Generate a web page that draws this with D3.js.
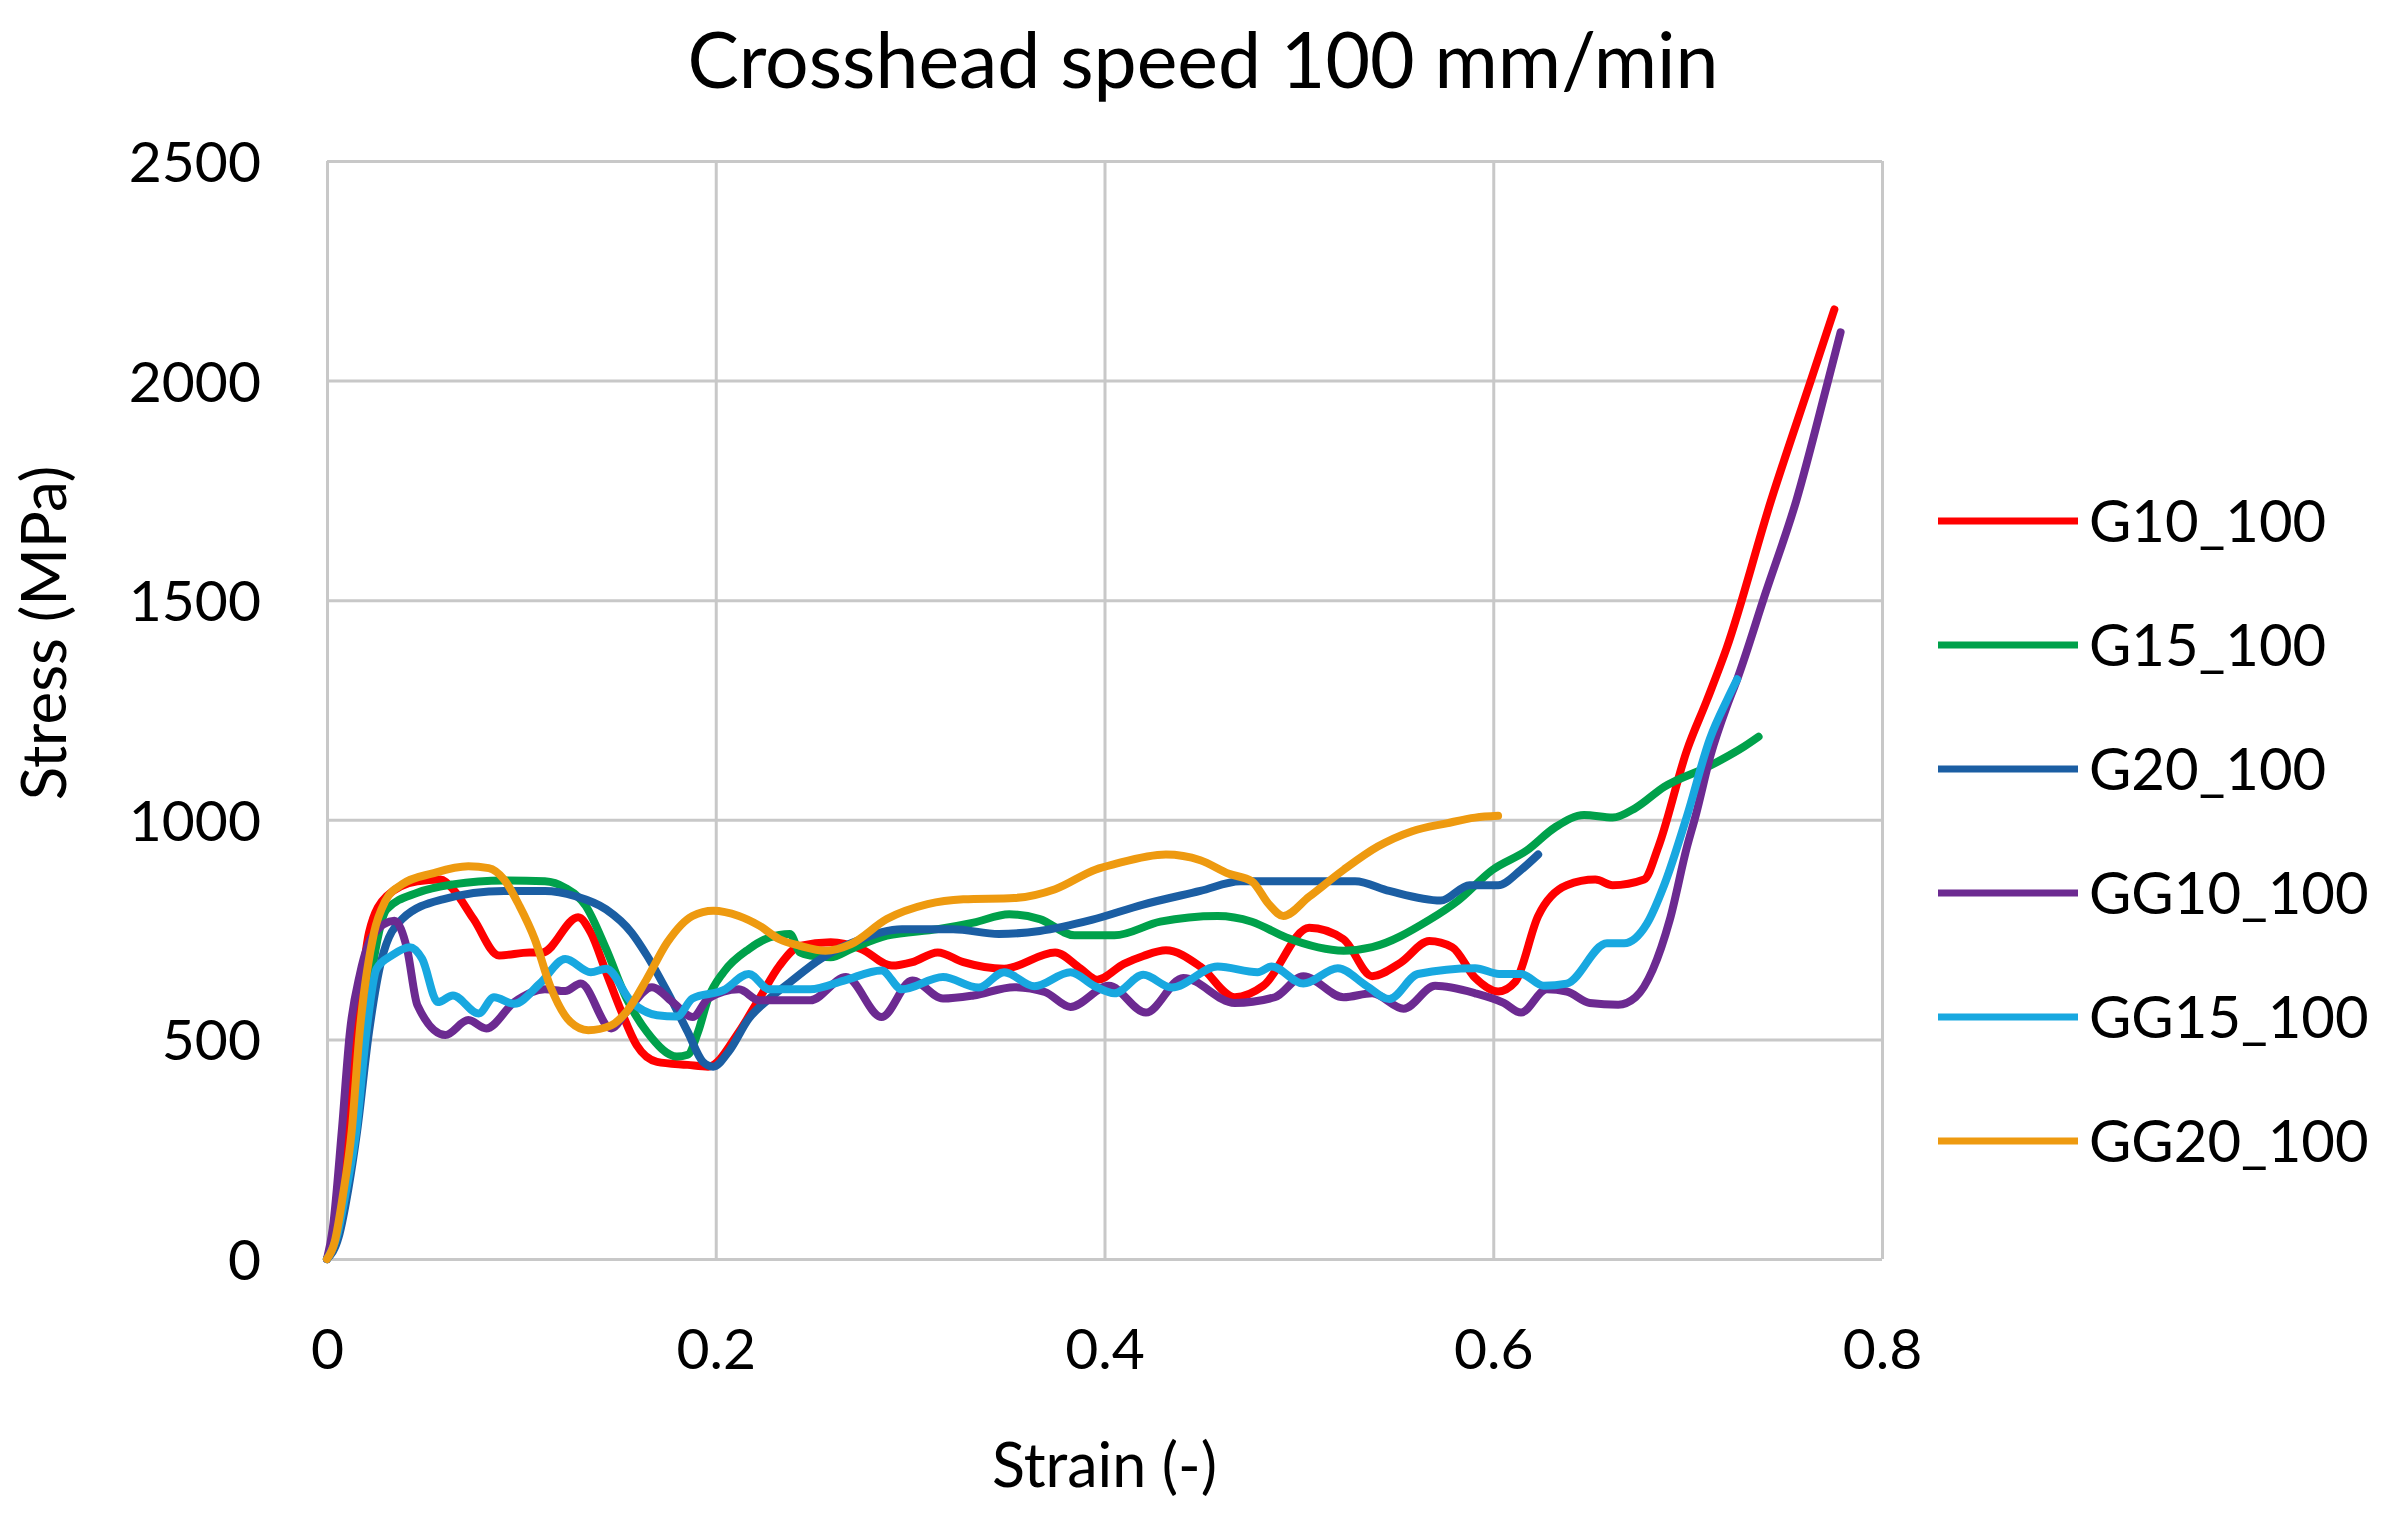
<!DOCTYPE html>
<html>
<head>
<meta charset="utf-8">
<script src="https://cdn.jsdelivr.net/npm/d3@7"></script>
<style>
  body { margin: 0; background: #fff; }
  text { font-family: Lato, "Open Sans", sans-serif; fill: #000; }
</style>
</head>
<body>
<div id="chart"></div>
<script>
// values (strain, stress in MPa)
var G10_100 = [[0,0],[0.004,60],[0.008,170],[0.011,291],[0.0155,517],[0.0216,743],[0.0307,826],[0.0465,860],[0.0583,864],[0.0648,842],[0.0754,774],[0.0885,691],[0.1042,698],[0.1108,698],[0.1292,778],[0.1357,743],[0.1436,653],[0.1515,563],[0.1593,487],[0.1698,449],[0.1856,442],[0.1961,438],[0.2119,517],[0.2224,593],[0.2328,668],[0.2433,713],[0.2591,721],[0.2748,706],[0.2906,668],[0.3011,676],[0.3142,698],[0.3274,676],[0.3483,661],[0.3746,698],[0.3877,661],[0.3963,636],[0.41,672],[0.42,690],[0.4316,703],[0.4493,666],[0.467,596],[0.4817,622],[0.5053,754],[0.523,728],[0.5377,644],[0.5524,675],[0.5671,724],[0.5789,710],[0.5907,640],[0.6025,609],[0.6113,631],[0.6231,781],[0.6378,851],[0.6525,864],[0.6614,851],[0.6776,864],[0.685,939],[0.6997,1159],[0.71,1273],[0.72,1390],[0.743,1728],[0.763,1995],[0.7755,2162]];

var G15_100 = [[0,0],[0.005,50],[0.0095,150],[0.0137,291],[0.0189,517],[0.024,680],[0.0307,796],[0.0465,834],[0.0648,853],[0.0911,862],[0.1121,860],[0.1226,845],[0.1331,804],[0.1436,706],[0.1541,593],[0.1646,517],[0.18,461],[0.1856,465],[0.1909,517],[0.1961,593],[0.204,653],[0.2171,706],[0.2276,732],[0.2381,740],[0.2433,698],[0.2486,691],[0.2591,687],[0.2696,706],[0.288,736],[0.3142,751],[0.3326,766],[0.351,785],[0.3667,774],[0.3845,737],[0.4051,737],[0.4287,768],[0.4582,781],[0.4758,768],[0.4935,732],[0.523,702],[0.5377,710],[0.5671,772],[0.5819,816],[0.5996,886],[0.6172,930],[0.6319,983],[0.6467,1011],[0.6614,1005],[0.6732,1027],[0.6879,1075],[0.7115,1123],[0.7292,1167],[0.7365,1189]];

var G20_100 = [[0,0],[0.006,50],[0.011,160],[0.0155,291],[0.0216,517],[0.028,680],[0.0386,774],[0.0596,819],[0.0911,838],[0.1121,838],[0.1278,826],[0.1436,796],[0.1567,743],[0.1646,691],[0.1751,608],[0.1856,517],[0.1934,449],[0.1987,438],[0.2066,472],[0.2171,548],[0.2276,593],[0.2381,630],[0.2538,683],[0.2748,728],[0.2958,751],[0.3221,751],[0.3457,740],[0.3667,747],[0.3934,772],[0.4199,807],[0.4493,838],[0.47,860],[0.4935,860],[0.5289,860],[0.5465,838],[0.573,816],[0.5878,851],[0.6025,851],[0.6143,886],[0.6231,921]];

var GG10_100 = [[0,0],[0.003,70],[0.0076,291],[0.0118,517],[0.017,650],[0.024,740],[0.0347,770],[0.0412,706],[0.0465,578],[0.0609,510],[0.0727,544],[0.0819,525],[0.0964,585],[0.1121,614],[0.1226,610],[0.1305,627],[0.1462,525],[0.1541,563],[0.1672,619],[0.1777,585],[0.1882,551],[0.1961,593],[0.2119,614],[0.2224,589],[0.2486,589],[0.267,642],[0.2853,551],[0.3011,634],[0.3169,593],[0.3326,600],[0.3536,619],[0.3693,608],[0.3825,574],[0.4022,622],[0.4213,561],[0.4405,640],[0.467,583],[0.4876,596],[0.5023,644],[0.523,596],[0.5377,605],[0.5539,570],[0.5701,622],[0.5907,605],[0.6054,583],[0.6143,561],[0.6275,614],[0.6378,609],[0.6496,583],[0.6643,579],[0.6732,596],[0.682,658],[0.6908,772],[0.6997,939],[0.7041,1009],[0.712,1150],[0.7203,1260],[0.7255,1320],[0.74,1515],[0.756,1728],[0.772,1995],[0.7787,2110]];

var GG15_100 = [[0,0],[0.005,50],[0.01,160],[0.015,291],[0.0203,517],[0.0255,661],[0.0333,691],[0.0425,710],[0.049,683],[0.057,585],[0.0648,600],[0.078,559],[0.0859,596],[0.0964,581],[0.1095,627],[0.1226,683],[0.1357,653],[0.1436,661],[0.1567,585],[0.1698,555],[0.18,552],[0.188,593],[0.204,612],[0.217,649],[0.2276,614],[0.2486,614],[0.266,634],[0.2853,657],[0.2958,614],[0.3169,642],[0.3352,618],[0.3483,653],[0.364,621],[0.3825,653],[0.395,621],[0.4051,605],[0.42,647],[0.4346,618],[0.4582,666],[0.4788,653],[0.486,666],[0.5023,627],[0.52,662],[0.5348,622],[0.5465,592],[0.5612,649],[0.5907,662],[0.603,649],[0.6143,649],[0.626,622],[0.6378,627],[0.6585,719],[0.6673,719],[0.679,763],[0.6879,851],[0.6997,1009],[0.7115,1185],[0.7203,1273],[0.7255,1320]];

var GG20_100 = [[0,0],[0.004,40],[0.008,140],[0.0127,291],[0.0168,517],[0.0242,743],[0.03,815],[0.0386,853],[0.0544,878],[0.0727,894],[0.0832,890],[0.0911,864],[0.099,804],[0.1069,728],[0.1147,623],[0.1252,540],[0.1344,521],[0.1462,532],[0.1541,563],[0.1646,638],[0.1751,721],[0.188,781],[0.1987,793],[0.2119,781],[0.2224,759],[0.2328,728],[0.2433,713],[0.2565,702],[0.2696,717],[0.288,774],[0.309,808],[0.3274,819],[0.3536,822],[0.3746,842],[0.3956,887],[0.4051,899],[0.4316,921],[0.4493,908],[0.464,877],[0.4758,860],[0.4847,807],[0.492,781],[0.5053,825],[0.523,886],[0.5406,939],[0.5583,974],[0.576,992],[0.5907,1005],[0.6025,1009]];

var seriesNames = ["G10_100", "G15_100", "G20_100", "GG10_100", "GG15_100", "GG20_100"];
var seriesValues = [G10_100, G15_100, G20_100, GG10_100, GG15_100, GG20_100];
var seriesColors = ["#ff0000", "#00a14b", "#1b5ea3", "#6c2a91", "#18a8e0", "#ee9a10"];

var xTicks = [0, 0.2, 0.4, 0.6, 0.8];
var yTicks = [0, 500, 1000, 1500, 2000, 2500];

var svgWidth = 2402
var svgHeight = 1525

var margin = {
    top: 161,
    bottom: 266,
    left: 327,
    right: 520
}

var width = svgWidth - margin.left - margin.right;
var height = svgHeight - margin.top - margin.bottom;

var svg = d3.select("#chart")
    .append("svg")
    .attr("width", svgWidth)
    .attr("height", svgHeight)

var chartGroup = svg.append("g")
    .attr("transform", `translate(${margin.left}, ${margin.top})`);

var xLinearScale = d3.scaleLinear()
    .domain([0, 0.8])
    .range([0, width]);

var yLinearScale = d3.scaleLinear()
    .domain([0, 2500])
    .range([height, 0]);

// gridlines (the frame is just the outer gridlines)
var gridColor = "#c8c8c8";

chartGroup.append("g")
    .call(d3.axisLeft(yLinearScale).tickValues(yTicks).tickSize(-width).tickFormat(""))
    .call(g => g.select(".domain").remove())
    .selectAll("line")
    .attr("stroke", gridColor)
    .attr("stroke-width", 3);

chartGroup.append("g")
    .attr("transform", `translate(0, ${height})`)
    .call(d3.axisBottom(xLinearScale).tickValues(xTicks).tickSize(-height).tickFormat(""))
    .call(g => g.select(".domain").remove())
    .selectAll("line")
    .attr("stroke", gridColor)
    .attr("stroke-width", 3);

// tick labels
var leftAxis = d3.axisLeft(yLinearScale).tickValues(yTicks).tickSize(0).tickPadding(66).tickFormat(d3.format("d"));
chartGroup.append("g")
    .call(leftAxis)
    .call(g => g.select(".domain").remove())
    .selectAll("text")
    .attr("font-size", 57)
    .attr("font-family", "Lato, sans-serif")
    .attr("dy", "0.36em");

var bottomAxis = d3.axisBottom(xLinearScale).tickValues(xTicks).tickSize(0).tickPadding(70).tickFormat(d => d === 0 ? "0" : d3.format(".1f")(d));
chartGroup.append("g")
    .attr("transform", `translate(0, ${height})`)
    .call(bottomAxis)
    .call(g => g.select(".domain").remove())
    .selectAll("text")
    .attr("font-size", 57)
    .attr("font-family", "Lato, sans-serif")
    .attr("dy", "0.71em");

// curves
var line = d3.line()
    .x(d => xLinearScale(d[0]))
    .y(d => yLinearScale(d[1]))
    .curve(d3.curveMonotoneX);

chartGroup.selectAll(".curve")
    .data(seriesValues)
    .enter()
    .append("path")
    .attr("class", "curve")
    .attr("d", d => line(d))
    .attr("fill", "none")
    .attr("stroke", (d, i) => seriesColors[i])
    .attr("stroke-width", 8)
    .attr("stroke-linejoin", "round")
    .attr("stroke-linecap", "round");

// titles
svg.append("text")
    .attr("x", 1203)
    .attr("y", 88)
    .attr("text-anchor", "middle")
    .attr("font-size", 77)
    .text("Crosshead speed 100 mm/min");

svg.append("text")
    .attr("x", margin.left + width / 2)
    .attr("y", 1487)
    .attr("text-anchor", "middle")
    .attr("font-size", 61)
    .text("Strain (-)");

svg.append("text")
    .attr("transform", "translate(66, 633) rotate(-90)")
    .attr("text-anchor", "middle")
    .attr("font-size", 62)
    .text("Stress (MPa)");

// legend
var legend = svg.append("g")
    .attr("transform", "translate(1938, 521)");

var legendItems = legend.selectAll("g")
    .data(seriesNames)
    .enter()
    .append("g")
    .attr("transform", (d, i) => `translate(0, ${i * 124})`);

legendItems.append("line")
    .attr("x1", 0)
    .attr("x2", 140)
    .attr("stroke", (d, i) => seriesColors[i])
    .attr("stroke-width", 7);

legendItems.append("text")
    .attr("x", 151)
    .attr("dy", "0.36em")
    .attr("font-size", 58)
    .text(d => d);
</script>
</body>
</html>
